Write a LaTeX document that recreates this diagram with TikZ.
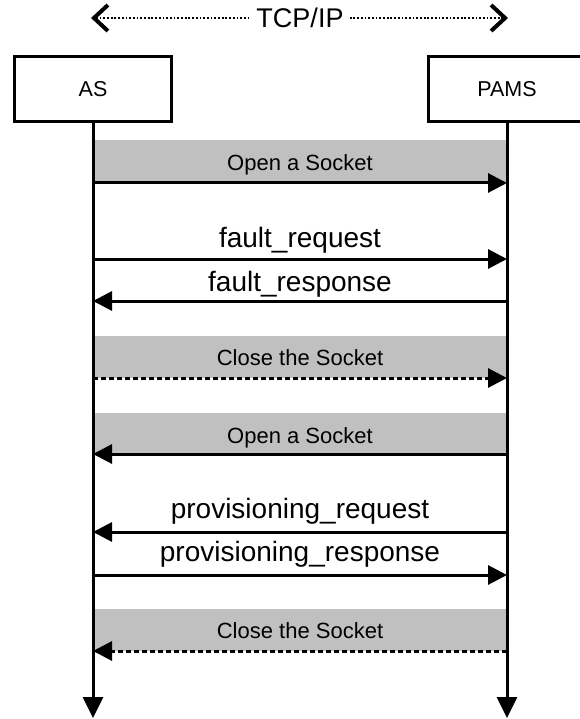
\documentclass[tikz,border=0pt]{standalone}
\usepackage{fontspec}
\setmainfont{Liberation Sans}
\usetikzlibrary{arrows.meta}
\definecolor{bandgray}{HTML}{C0C0C0}
\tikzset{
 chev/.tip={Straight Barb[length=14pt,width=26pt,line width=4pt]},
}
\begin{document}
\begin{tikzpicture}[x=1pt,y=-1pt,
 actor/.style={draw, line width=3pt, minimum width=157pt, minimum height=65pt, inner sep=0pt, font=\fontsize{21.5}{24}\selectfont},
 life/.style={line width=3pt, -{Triangle[length=21pt,width=20pt]}},
 msg/.style={line width=3pt, -{Triangle[length=19pt,width=19pt]}},
 dmsg/.style={msg, dash pattern=on 5pt off 3pt},
 band/.style={fill=bandgray, draw=none},
 blabel/.style={anchor=base, inner sep=0pt, font=\fontsize{22}{24}\selectfont},
 mlabel/.style={anchor=base, inner sep=0pt, font=\fontsize{28}{30}\selectfont},
 tcpline/.style={line width=2.6pt, dash pattern=on 1.8pt off 1.9pt},
]
\useasboundingbox (0,0) rectangle (579,719);

% TCP/IP header
\node[font=\fontsize{27}{30}\selectfont, inner sep=6pt] (tcp) at (300,18) {TCP/IP};
\coordinate (tl) at (91,18);
\coordinate (tr) at (508,18);
\draw[tcpline, {chev}-] (tl) -- (tcp.west);
\draw[tcpline, -{chev}] (tcp.east) -- (tr);

% actors
\node[actor] (as) at (93,89) {AS};
\node[actor] (pams) at (507,89) {PAMS};

% bands
\fill[band] (93,140) rectangle (507,183);
\fill[band] (93,336) rectangle (507,378);
\fill[band] (93,413) rectangle (507,454);
\fill[band] (93,609) rectangle (507,651);

% lifelines
\coordinate (asend) at (93,718);
\coordinate (pamsend) at (507,718);
\draw[life] (as.south) -- (asend);
\draw[life] (pams.south) -- (pamsend);

% message points
\coordinate (a1) at (93,183);  \coordinate (p1) at (507,183);
\coordinate (a2) at (93,259);  \coordinate (p2) at (507,259);
\coordinate (a3) at (93,301);  \coordinate (p3) at (507,301);
\coordinate (a4) at (93,378);  \coordinate (p4) at (507,378);
\coordinate (a5) at (93,454);  \coordinate (p5) at (507,454);
\coordinate (a6) at (93,532);  \coordinate (p6) at (507,532);
\coordinate (a7) at (93,575);  \coordinate (p7) at (507,575);
\coordinate (a8) at (93,651);  \coordinate (p8) at (507,651);

\draw[msg] (a1) -- (p1);
\draw[msg] (a2) -- (p2);
\draw[msg] (p3) -- (a3);
\draw[dmsg] (a4) -- (p4);
\draw[msg] (p5) -- (a5);
\draw[msg] (p6) -- (a6);
\draw[msg] (a7) -- (p7);
\draw[dmsg] (p8) -- (a8);

% labels
\node[blabel] (l1) at (300,171) {Open a Socket};
\node[mlabel] (l2) at (300,247) {fault\_request};
\node[mlabel] (l3) at (300,291) {fault\_response};
\node[blabel] (l4) at (300,365) {Close the Socket};
\node[blabel] (l5) at (300,443) {Open a Socket};
\node[mlabel] (l6) at (300,518) {provisioning\_request};
\node[mlabel] (l7) at (300,561) {provisioning\_response};
\node[blabel] (l8) at (300,638) {Close the Socket};
\end{tikzpicture}
\end{document}
